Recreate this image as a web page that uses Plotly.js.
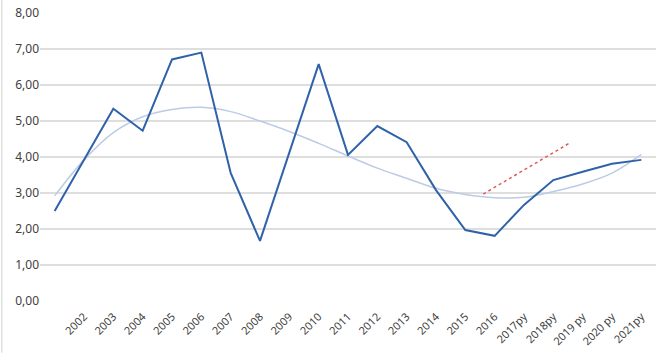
<!DOCTYPE html>
<html>
<head>
<meta charset="utf-8">
<script src="https://cdn.plot.ly/plotly-3.0.1.min.js"></script>
<style>html,body{margin:0;padding:0;background:#fff;}#chart{width:661px;height:353px;}</style>
</head>
<body>
<div id="chart"></div>
<script>
// Category labels (first category position is unlabeled in the original)
const categories = ["", "2002", "2003", "2004", "2005", "2006", "2007", "2008", "2009", "2010",
  "2011", "2012", "2013", "2014", "2015", "2016", "2017py", "2018py", "2019 py", "2020 py", "2021py"];
// Main series values
const seriesValues = [2.50, 3.92, 5.34, 4.73, 6.71, 6.90, 3.56, 1.67, 4.10, 6.58,
  4.06, 4.86, 4.41, 3.08, 1.97, 1.81, 2.67, 3.36, 3.59, 3.81, 3.92];
// Trend line values read at each category
const trendValues = [2.92, 3.92, 4.68, 5.12, 5.32, 5.38, 5.26, 5.00, 4.71, 4.38,
  4.03, 3.69, 3.41, 3.13, 2.96, 2.87, 2.88, 3.04, 3.25, 3.55, 4.07];
// Red dotted segment (positions in category units)
const redX = [14.61, 17.60];
const redY = [2.97, 4.41];
// Y ticks
const yTicks = [0, 1, 2, 3, 4, 5, 6, 7, 8];

const xIdx = categories.map((c, i) => i);

const traces = [
  {x: xIdx, y: trendValues, type: 'scatter', mode: 'lines',
   line: {color: '#bccbe6', width: 1.5, shape: 'spline', smoothing: 1}, hoverinfo: 'skip'},
  {x: xIdx, y: seriesValues, type: 'scatter', mode: 'lines',
   line: {color: '#2f62a8', width: 2}},
  {x: redX, y: redY, type: 'scatter', mode: 'lines',
   line: {color: '#e05a5a', width: 1.5, dash: 'dot'}}
];

const layout = {
  width: 661, height: 353,
  margin: {l: 40, r: 5, t: 13, b: 52},
  paper_bgcolor: '#ffffff', plot_bgcolor: '#ffffff',
  showlegend: false,
  separators: ', ',
  font: {family: 'Noto Sans, sans-serif', size: 12, color: '#595959'},
  xaxis: {
    range: [-0.5, categories.length - 0.5],
    tickmode: 'array', tickvals: xIdx, ticktext: categories,
    tickangle: -45, showgrid: false, zeroline: false, showline: false,
    ticks: 'outside', ticklen: 4, tickcolor: 'rgba(0,0,0,0)',
    tickfont: {size: 11, color: '#404040'}, fixedrange: true
  },
  yaxis: {
    range: [0, 8], tickmode: 'array', tickvals: yTicks, tickformat: '.2f',
    showgrid: true, gridcolor: '#dedede', gridwidth: 1.2,
    zeroline: false, showline: false, ticks: '', ticklen: 0,
    tickfont: {size: 12, color: '#404040'}, fixedrange: true
  },
  shapes: [
    {type: 'line', xref: 'paper', yref: 'paper', x0: -0.062, x1: -0.062, y0: -0.18, y1: 1.05,
     line: {color: '#d0d0d0', width: 1}}
  ]
};

Plotly.newPlot('chart', traces, layout, {staticPlot: true, displayModeBar: false});
</script>
</body>
</html>
